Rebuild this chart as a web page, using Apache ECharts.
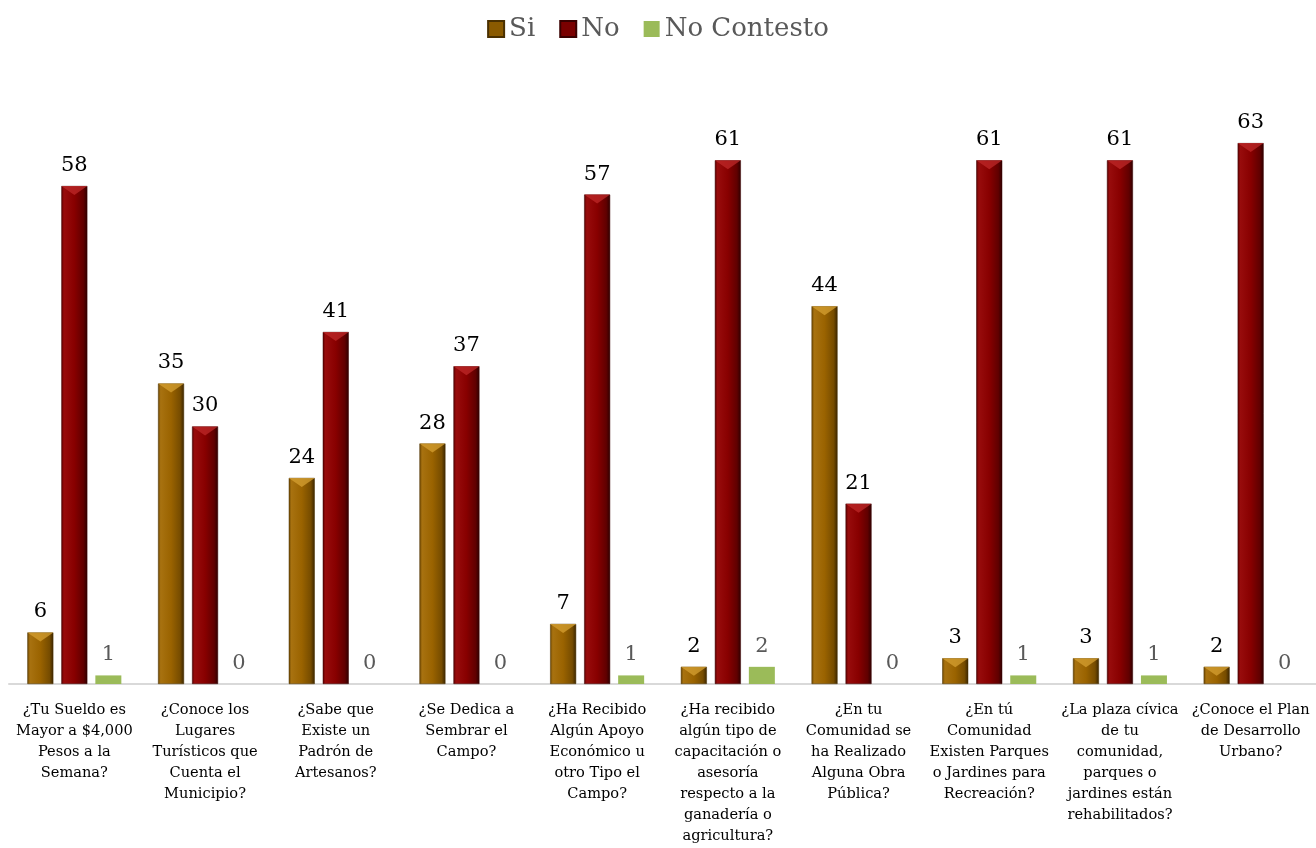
<!DOCTYPE html>
<html>
<head>
<meta charset="utf-8">
<script src="https://cdn.jsdelivr.net/npm/echarts@6/dist/echarts.min.js"></script>
<style>html,body{margin:0;padding:0;background:#fff;}#c{width:1316px;height:848px;}</style>
</head>
<body>
<div id="c"></div>
<script>
const categories = [
  "¿Tu Sueldo es\nMayor a $4,000\nPesos a la\nSemana?",
  "¿Conoce los\nLugares\nTurísticos que\nCuenta el\nMunicipio?",
  "¿Sabe que\nExiste un\nPadrón de\nArtesanos?",
  "¿Se Dedica a\nSembrar el\nCampo?",
  "¿Ha Recibido\nAlgún Apoyo\nEconómico u\notro Tipo el\nCampo?",
  "¿Ha recibido\nalgún tipo de\ncapacitación o\nasesoría\nrespecto a la\nganadería o\nagricultura?",
  "¿En tu\nComunidad se\nha Realizado\nAlguna Obra\nPública?",
  "¿En tú\nComunidad\nExisten Parques\no Jardines para\nRecreación?",
  "¿La plaza cívica\nde tu\ncomunidad,\nparques o\njardines están\nrehabilitados?",
  "¿Conoce el Plan\nde Desarrollo\nUrbano?"
];
const seriesNames = ["Si", "No", "No Contesto"];
const siValues = [6, 35, 24, 28, 7, 2, 44, 3, 3, 2];
const noValues = [58, 30, 41, 37, 57, 61, 21, 61, 61, 63];
const ncValues = [1, 0, 0, 0, 1, 2, 0, 1, 1, 0];

const FONT = "DejaVu Serif";
const BW = 26, GAP = 8;
function grad(stops) {
  return new echarts.graphic.LinearGradient(0, 0, 1, 0, stops.map(c => ({offset: c[0], color: c[1]})));
}
const siColor = grad([[0,'#6a4500'],[0.1,'#a87210'],[0.5,'#9a6300'],[0.85,'#764c00'],[1,'#3a2500']]);
const noColor = grad([[0,'#5a0000'],[0.1,'#980c0c'],[0.5,'#880000'],[0.85,'#600000'],[1,'#2e0000']]);
const tri = 'path://M0,0 L26,0 L13,9 Z';

function bevel(name, data, dx, color) {
  return {
    name: name + ' bevel', type: 'pictorialBar', data: data,
    symbol: tri, symbolSize: [BW, 9], symbolPosition: 'end',
    symbolOffset: [dx, 0], z: 5, silent: true,
    itemStyle: {color: color}, label: {show: false}
  };
}

const chart = echarts.init(document.getElementById('c'), null, {renderer: 'canvas'});
chart.setOption({
  animation: false,
  backgroundColor: '#ffffff',
  legend: {
    top: 11, left: 'center',
    itemWidth: 16, itemHeight: 16, itemGap: 24,
    textStyle: {fontFamily: FONT, fontSize: 26, color: '#595959'},
    data: [
      {name: seriesNames[0], icon: 'rect', itemStyle: {color: '#8a5a00'}},
      {name: seriesNames[1], icon: 'rect', itemStyle: {color: '#7a0000'}},
      {name: seriesNames[2], icon: 'rect', itemStyle: {color: '#9bbb59'}}
    ]
  },
  grid: {left: 9, right: -1, top: 83, bottom: 164, containLabel: false},
  xAxis: {
    type: 'category', data: categories,
    axisLine: {lineStyle: {color: '#d9d9d9', width: 2}},
    axisTick: {show: false},
    axisLabel: {interval: 0, fontFamily: FONT, fontSize: 14.6, color: '#000', lineHeight: 21, margin: 16}
  },
  yAxis: {type: 'value', min: 0, max: 70, show: false, splitLine: {show: false}},
  series: [
    {name: seriesNames[0], type: 'bar', data: siValues, barWidth: BW, barGap: (GAP / BW * 100) + '%',
     itemStyle: {color: siColor, borderColor: '#4a3000', borderWidth: 0.5},
     label: {show: true, position: 'top', distance: 10, fontFamily: FONT, fontSize: 21, color: '#000'}},
    {name: seriesNames[1], type: 'bar', data: noValues, barWidth: BW,
     itemStyle: {color: noColor, borderColor: '#3a0000', borderWidth: 0.5},
     label: {show: true, position: 'top', distance: 10, fontFamily: FONT, fontSize: 21, color: '#000'}},
    {name: seriesNames[2], type: 'bar', data: ncValues, barWidth: BW,
     itemStyle: {color: '#9bbb59'},
     label: {show: true, position: 'top', distance: 10, fontFamily: FONT, fontSize: 21, color: '#595959'}},
    bevel('Si', siValues, -(BW + GAP), 'rgba(214,160,50,0.75)'),
    bevel('No', noValues, 0, 'rgba(190,40,40,0.75)')
  ]
});
</script>
</body>
</html>
